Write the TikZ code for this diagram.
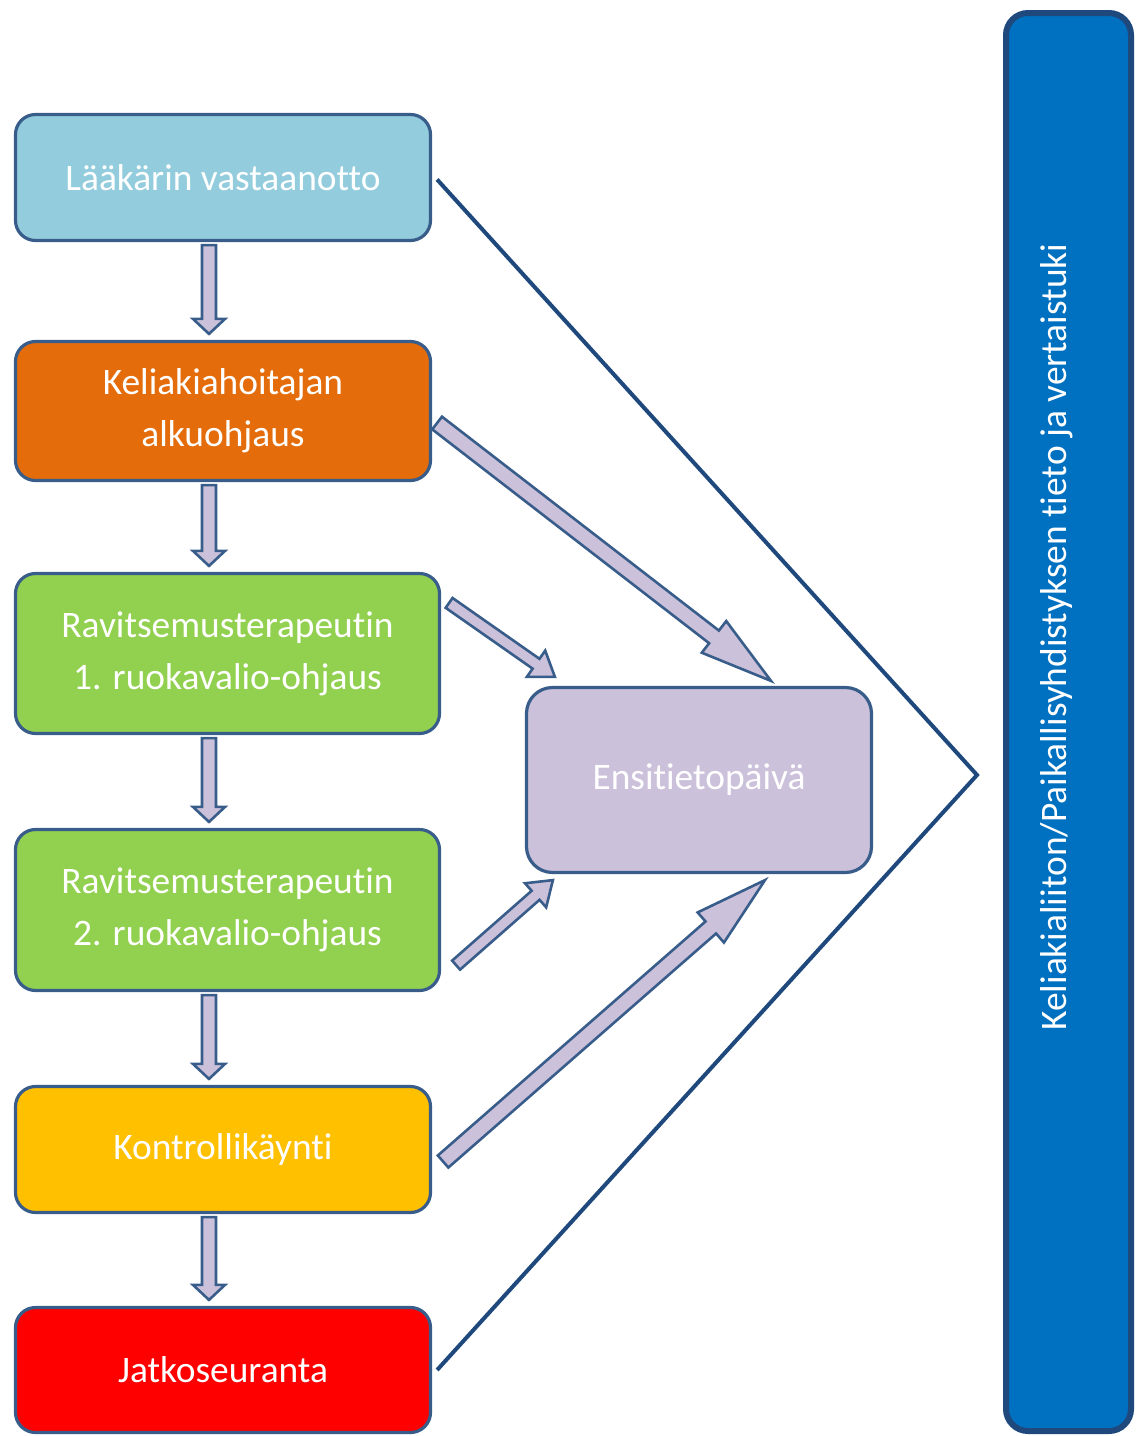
\documentclass[tikz,border=0pt]{standalone}
\usepackage{fontspec}
\setmainfont[Ligatures={NoCommon}]{Carlito}
\usepackage{tikz}
\usepackage{xcolor}
\usetikzlibrary{calc, positioning}
\definecolor{skyblue}{RGB}{147, 205, 221}
\definecolor{nurseorange}{RGB}{228, 108, 10}
\definecolor{dietgreen}{RGB}{146, 208, 80}
\definecolor{checkyellow}{RGB}{255, 192, 0}
\definecolor{followred}{RGB}{255, 0, 0}
\definecolor{arrowfill}{RGB}{204, 193, 218}
\definecolor{boxline}{RGB}{56, 93, 138}
\definecolor{navy}{RGB}{31, 73, 125}
\definecolor{barblue}{RGB}{0, 112, 192}

%% block arrow from #1 to #2: shaft half width, head half width, head length (px)
\newcommand{\blockarrow}[5]{%
  \draw[barr] let \p1=(#1), \p2=(#2),
      \n1={veclen(\x2-\x1,\y2-\y1)},
      \n2={(\x2-\x1)/\n1}, \n3={(\y2-\y1)/\n1} in
    ({\x1-(\n3)*#3*0.5}, {\y1+(\n2)*#3*0.5})
    -- ({\x2-(\n2)*#5*0.5-(\n3)*#3*0.5}, {\y2-(\n3)*#5*0.5+(\n2)*#3*0.5})
    -- ({\x2-(\n2)*#5*0.5-(\n3)*#4*0.5}, {\y2-(\n3)*#5*0.5+(\n2)*#4*0.5})
    -- (\p2)
    -- ({\x2-(\n2)*#5*0.5+(\n3)*#4*0.5}, {\y2-(\n3)*#5*0.5-(\n2)*#4*0.5})
    -- ({\x2-(\n2)*#5*0.5+(\n3)*#3*0.5}, {\y2-(\n3)*#5*0.5-(\n2)*#3*0.5})
    -- ({\x1+(\n3)*#3*0.5}, {\y1-(\n2)*#3*0.5}) -- cycle;
}

\begin{document}
\begin{tikzpicture}[x=0.5pt, y=-0.5pt, font=\fontsize{18.7}{26}\selectfont]
    \tikzstyle{box} = [rectangle, rounded corners=10pt, draw=boxline, line width=1.6pt,
                       minimum width=207.5pt, text=white, align=center, inner sep=0pt]
    \tikzstyle{barr} = [draw=boxline, fill=arrowfill, line width=1.3pt, line join=miter]
    \tikzstyle{vline} = [draw=navy, line width=2pt]
    \useasboundingbox (0,0) rectangle (1141,1436);

    %% Left column, top to bottom
    \node[box, fill=skyblue, minimum height=63pt]       at (223,177.5)  (l1) {Lääkärin vastaanotto};
    \node[box, fill=nurseorange, minimum height=69.5pt] at (223,411)    (l2) {Keliakiahoitajan\\alkuohjaus};
    \node[box, fill=dietgreen, minimum width=212pt, minimum height=80pt]
                                                        at (227.5,653.5) (l3) {Ravitsemusterapeutin\\1. ruokavalio-ohjaus};
    \node[box, fill=dietgreen, minimum width=212pt, minimum height=80.5pt]
                                                        at (227.5,910)  (l4) {Ravitsemusterapeutin\\2. ruokavalio-ohjaus};
    \node[box, fill=checkyellow, minimum height=63pt]   at (223,1149.5) (l5) {Kontrollikäynti};
    \node[box, fill=followred, minimum height=62.5pt]   at (223,1370)   (l6) {Jatkoseuranta};

    %% Middle box and right bar
    \node[box, fill=arrowfill, rounded corners=13pt, minimum width=172.5pt, minimum height=92.5pt]
      at (699,780) (ensi) {Ensitietopäivä};
    \node[rectangle, rounded corners=11pt, draw=navy, line width=3pt, fill=barblue,
          minimum width=62.5pt, minimum height=709pt] at (1068.5,722) (bar) {};
    \node[text=white, rotate=90] at (1057,637) (barlbl)
      {Keliakialiiton/Paikallisyhdistyksen tieto ja vertaistuki};

    %% ── Down arrows between the steps ─────────────────────────────────────
    \coordinate (col) at (209,0);
    \foreach \a/\b in {l1/l2, l2/l3, l3/l4, l4/l5, l5/l6}
      \blockarrow{$(\a.south -| col)+(0,3)$}{$(\b.north -| col)+(0,-6)$}{7}{16}{15};

    %% ── Arrows into Ensitietopäivä ─────────────────────────────────────────
    \blockarrow{$(l2.east)+(5,12)$}{$(ensi.north)+(72,-5)$}{8}{20}{72};
    \blockarrow{$(l3.north east)+(8,31)$}{$(ensi.north west)+(30,-9)$}{6}{16}{23};
    \blockarrow{$(l4.south east)+(15,-27)$}{$(ensi.south west)+(28,6)$}{6}{16}{23};
    \blockarrow{$(l5.east)+(11,12)$}{$(ensi.south)+(66,6)$}{8}{20}{72};

    %% ── Big bracket towards the bar ────────────────────────────────────────
    \coordinate (apex) at (977,775);
    \draw[vline] ($(l1.east)+(5,2)$) -- (apex) -- ($(l6.east)+(5,0)$);
\end{tikzpicture}
\end{document}
